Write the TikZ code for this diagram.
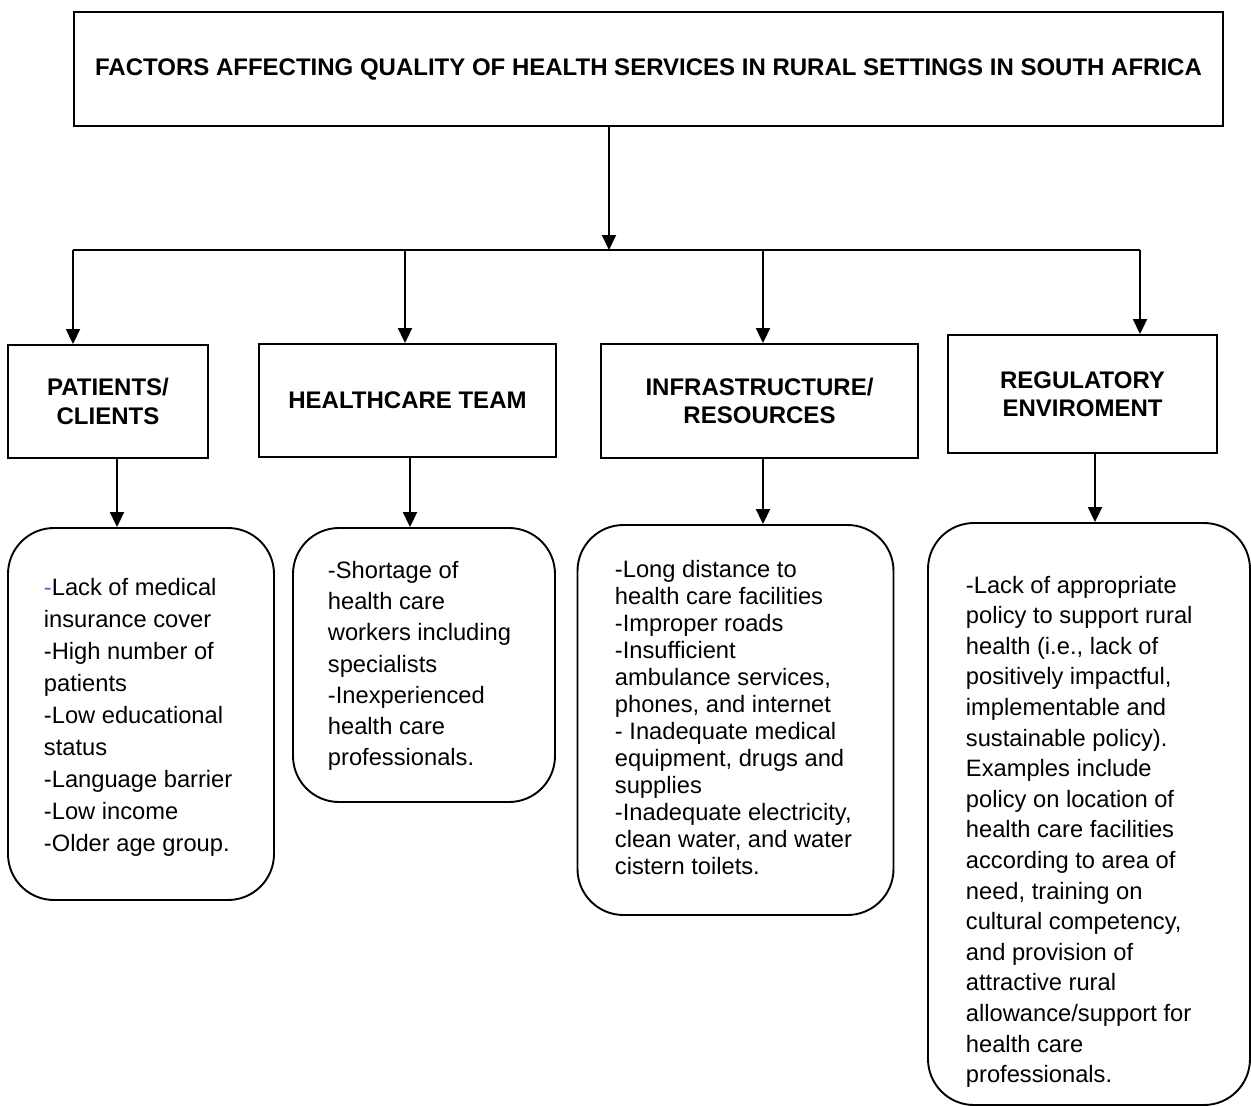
\documentclass[tikz,border=0pt]{standalone}
\usepackage{fontspec}
\setmainfont{Liberation Sans}
\usetikzlibrary{arrows.meta}
\definecolor{dashblue}{RGB}{68,114,196}
\begin{document}
\begin{tikzpicture}[x=1pt,y=-1pt,
  line width=1.9pt,
  arr/.style={-{Triangle[width=14pt,length=15pt]}},
  bigbox/.style={draw,rectangle,inner sep=0pt,font=\bfseries\fontsize{24}{29}\selectfont,align=center},
  headbox/.style={draw,rectangle,inner sep=0pt,font=\bfseries\fontsize{24}{28.5}\selectfont,align=center},
  roundbox/.style={draw,rectangle,rounded corners=46pt,inner sep=0pt},
  bodytext/.style={anchor=north west,inner sep=0pt,align=left},
]
\useasboundingbox (0,0) rectangle (1251,1106);
\begin{scope}
\clip (0,0) rectangle (1251,1106);

% title box
\node[bigbox,minimum width=1149pt,minimum height=114pt] (top) at (648.5,69)
  {FACTORS AFFECTING QUALITY OF HEALTH SERVICES IN RURAL SETTINGS IN SOUTH AFRICA};

% category boxes
\node[headbox,minimum width=200pt,minimum height=113pt] (pat) at (108,401.5) {PATIENTS/\\CLIENTS};
\node[headbox,minimum width=297pt,minimum height=113pt] (team) at (407.5,400.5) {HEALTHCARE TEAM};
\node[headbox,minimum width=317pt,minimum height=114pt] (infra) at (759.5,401) {INFRASTRUCTURE/\\RESOURCES};
\node[headbox,minimum width=269pt,minimum height=118pt] (reg) at (1082.5,394) {REGULATORY\\ENVIROMENT};

% detail boxes
\node[roundbox,minimum width=266pt,minimum height=372pt] (d1) at (141,714) {};
\node[roundbox,minimum width=262pt,minimum height=274pt] (d2) at (424,665) {};
\node[roundbox,minimum width=316pt,minimum height=390pt] (d3) at (735.5,720) {};
\node[roundbox,minimum width=322pt,minimum height=582pt] (d4) at (1089,814) {};

% detail texts
\node[bodytext,font=\fontsize{23.7}{32}\selectfont] (t1) at (43,577) {%
\textcolor{dashblue}{-}Lack of medical\\
insurance cover\\
-High number of\\
patients\\
-Low educational\\
status\\
-Language barrier\\
-Low income\\
-Older age group.};

\node[bodytext,font=\fontsize{23.7}{31.3}\selectfont] (t2) at (327,560) {%
-Shortage of\\
health care\\
workers including\\
specialists\\
-Inexperienced\\
health care\\
professionals.};

\node[bodytext,font=\fontsize{23.7}{27}\selectfont] (t3) at (614,559) {%
-Long distance to\\
health care facilities\\
-Improper roads\\
-Insufficient\\
ambulance services,\\
phones, and internet\\
- Inadequate medical\\
equipment, drugs and\\
supplies\\
-Inadequate electricity,\\
clean water, and water\\
cistern toilets.};

\node[bodytext,font=\fontsize{23.7}{30.6}\selectfont] (t4) at (965,575) {%
-Lack of appropriate\\
policy to support rural\\
health (i.e., lack of\\
positively impactful,\\
implementable and\\
sustainable policy).\\
Examples include\\
policy on location of\\
health care facilities\\
according to area of\\
need, training on\\
cultural competency,\\
and provision of\\
attractive rural\\
allowance/support for\\
health care\\
professionals.};

% connectors
\coordinate (b0) at (609,250);
\coordinate (b1) at (73,250);
\coordinate (b2) at (405,250);
\coordinate (b3) at (763,250);
\coordinate (b4) at (1140,250);
\draw[arr] (top.south -| b0) -- (b0);
\draw[line width=1.2pt] (b1) -- (b4);
\draw[arr] (b1) -- (b1 |- pat.north);
\draw[arr] (b2) -- (b2 |- team.north);
\draw[arr] (b3) -- (b3 |- infra.north);
\draw[arr] (b4) -- (b4 |- reg.north);

\coordinate (c1) at (117,0);
\coordinate (c2) at (410,0);
\coordinate (c3) at (763,0);
\coordinate (c4) at (1095,0);
\draw[arr] (c1 |- pat.south) -- (c1 |- d1.north);
\draw[arr] (c2 |- team.south) -- (c2 |- d2.north);
\draw[arr] (c3 |- infra.south) -- (c3 |- d3.north);
\draw[arr] (c4 |- reg.south) -- (c4 |- d4.north);
\end{scope}
\end{tikzpicture}
\end{document}
